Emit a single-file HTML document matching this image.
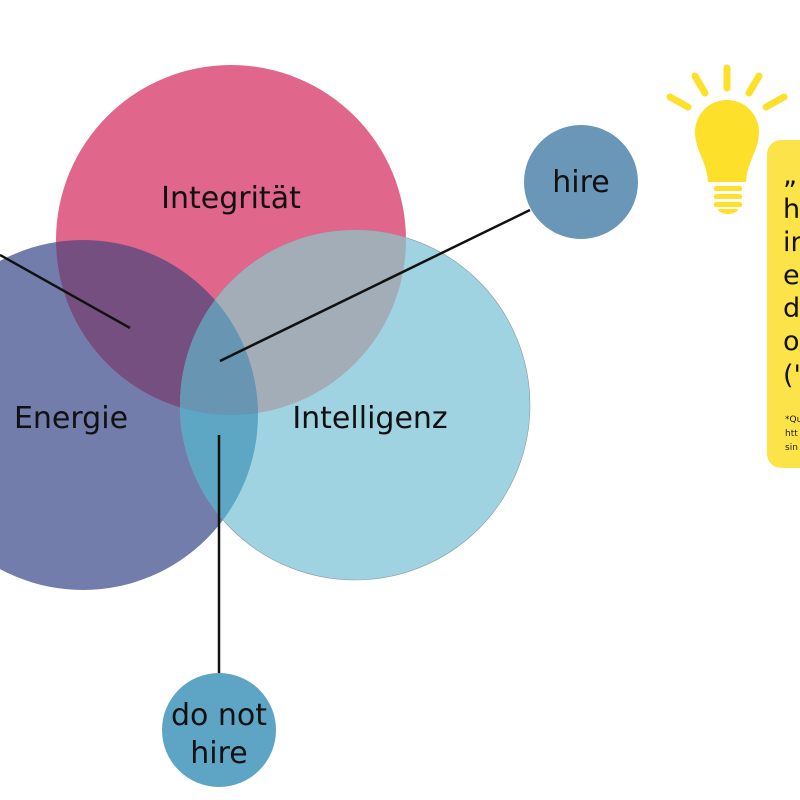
<!DOCTYPE html>
<html><head><meta charset="utf-8"><style>
html,body{margin:0;padding:0;background:#fff;width:800px;height:800px;overflow:hidden}
svg{display:block}
text{font-family:"DejaVu Sans","Liberation Sans",sans-serif}
</style></head><body>
<svg width="800" height="800" viewBox="0 0 800 800" xmlns="http://www.w3.org/2000/svg">
<defs>
<clipPath id="cE"><circle cx="83" cy="415" r="175"/></clipPath>
<clipPath id="cP"><circle cx="231" cy="240" r="175"/></clipPath>
<clipPath id="cI"><circle cx="355" cy="405" r="175"/></clipPath>
</defs>
<circle cx="83" cy="415" r="175" fill="#727dab"/>
<circle cx="231" cy="240" r="175" fill="#e0668c"/>
<circle cx="355" cy="405" r="175" fill="#a0d3e2" stroke="#8a9aa0" stroke-width="0.6"/>
<circle cx="231" cy="240" r="175" fill="#744f80" clip-path="url(#cE)"/>
<circle cx="231" cy="240" r="175" fill="#a3adb8" clip-path="url(#cI)"/>
<circle cx="83" cy="415" r="175" fill="#5ea7c4" clip-path="url(#cI)"/>
<g clip-path="url(#cE)"><circle cx="231" cy="240" r="175" fill="#6895b1" clip-path="url(#cI)"/></g>
<text x="231" y="208" font-size="30" text-anchor="middle" fill="#111">Integrität</text>
<text x="71" y="428" font-size="30" text-anchor="middle" fill="#111">Energie</text>
<text x="370" y="428" font-size="30" text-anchor="middle" fill="#111">Intelligenz</text>
<g stroke="#111" stroke-width="2.5">
<line x1="0" y1="255" x2="130" y2="328"/>
<line x1="220" y1="361" x2="530" y2="210"/>
<line x1="219" y1="435" x2="219" y2="675"/>
</g>
<circle cx="581" cy="182" r="57" fill="#6a97b8"/>
<text x="581" y="192" font-size="30" text-anchor="middle" fill="#111">hire</text>
<circle cx="219" cy="730" r="57" fill="#5ea5c5"/>
<text x="219" y="725" font-size="30" text-anchor="middle" fill="#111">do not</text>
<text x="219" y="763" font-size="30" text-anchor="middle" fill="#111">hire</text>
<!-- bulb -->
<g fill="#fde02a" stroke="none">
<path d="M695,132 a32,32 0 1 1 64,0 c0,18 -12,30 -13,50 h-38 c-1,-20 -13,-32 -13,-50z"/>
<rect x="714" y="186" width="28" height="5" rx="2"/>
<rect x="714" y="194" width="28" height="5" rx="2"/>
<rect x="714" y="202" width="28" height="5" rx="2"/>
<path d="M718,209 h20 a10,5 0 0 1 -20,0z"/>
</g>
<g stroke="#fde02a" stroke-width="7" stroke-linecap="round">
<line x1="727" y1="68" x2="727" y2="88"/>
<line x1="695" y1="76" x2="705" y2="93"/>
<line x1="759" y1="76" x2="749" y2="93"/>
<line x1="670" y1="97" x2="688" y2="107"/>
<line x1="784" y1="97" x2="766" y2="107"/>
</g>
<rect x="767" y="140" width="60" height="328" rx="14" fill="#fde34a"/>
<g font-size="27" fill="#111">
<text x="783" y="200">”</text>
<text x="783" y="218">h</text>
<text x="783" y="251">in</text>
<text x="783" y="284">e</text>
<text x="783" y="317">d</text>
<text x="783" y="350">o</text>
<text x="783" y="384">('</text>
</g>
<g font-size="9" fill="#222">
<text x="785" y="422">*Qu</text>
<text x="785" y="436">htt</text>
<text x="785" y="450">sin</text>
</g>
</svg>
</body></html>
